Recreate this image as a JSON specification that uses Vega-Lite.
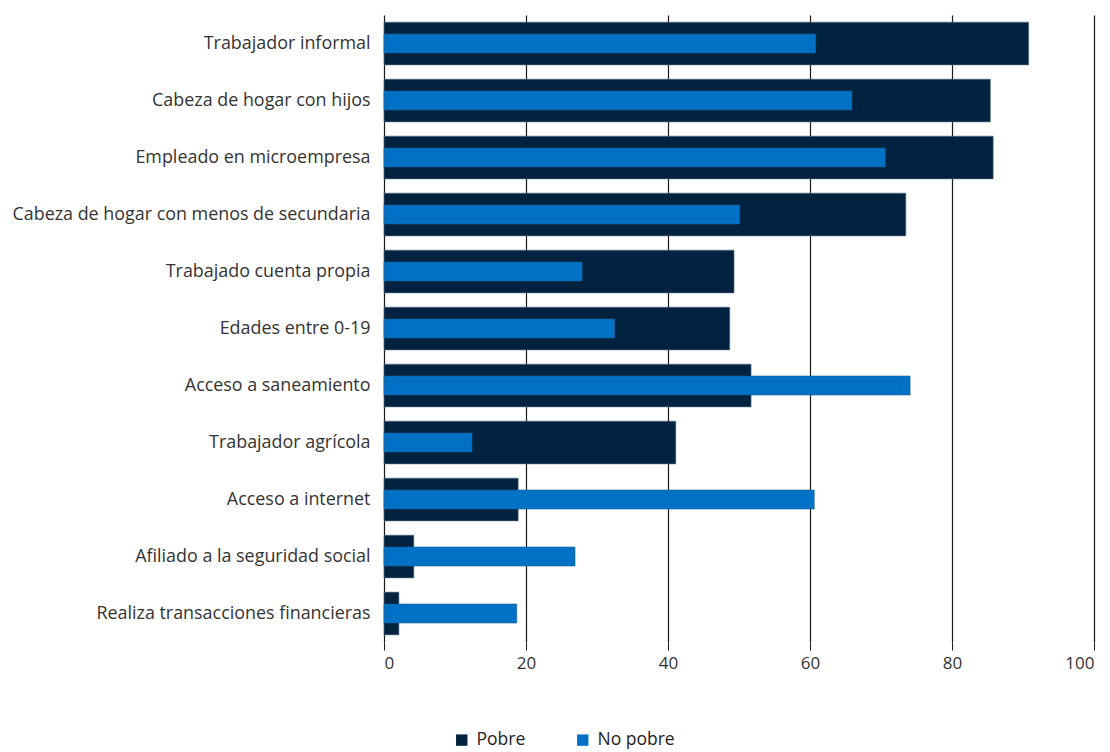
{
  "$schema": "https://vega.github.io/schema/vega-lite/v6.json",
  "autosize": {"type": "none"},
  "width": 710,
  "height": 627,
  "padding": {"left": 384, "top": 15, "right": 16, "bottom": 110},
  "config": {
    "font": "Open Sans",
    "view": {"stroke": null},
    "axis": {"labelFont": "Open Sans", "labelColor": "#333333", "labelFontSize": 17.9}
  },
  "data": {
    "values": [
      {"cat": "Trabajador informal", "pobre": 90.8, "nopobre": 60.8},
      {"cat": "Cabeza de hogar con hijos", "pobre": 85.4, "nopobre": 65.9},
      {"cat": "Empleado en microempresa", "pobre": 85.8, "nopobre": 70.6},
      {"cat": "Cabeza de hogar con menos de secundaria", "pobre": 73.5, "nopobre": 50.1},
      {"cat": "Trabajado cuenta propia", "pobre": 49.3, "nopobre": 27.9},
      {"cat": "Edades entre 0-19", "pobre": 48.7, "nopobre": 32.5},
      {"cat": "Acceso a saneamiento", "pobre": 51.7, "nopobre": 74.1},
      {"cat": "Trabajador agrícola", "pobre": 41.1, "nopobre": 12.4},
      {"cat": "Acceso a internet", "pobre": 18.9, "nopobre": 60.6},
      {"cat": "Afiliado a la seguridad social", "pobre": 4.2, "nopobre": 26.9},
      {"cat": "Realiza transacciones financieras", "pobre": 2.1, "nopobre": 18.7}
    ]
  },
  "encoding": {
    "y": {
      "field": "cat", "type": "nominal", "sort": null,
      "scale": {"paddingInner": 0.25, "paddingOuter": 0.125},
      "axis": {"title": null, "ticks": false, "domain": false, "labelPadding": 14, "labelLimit": 400}
    }
  },
  "layer": [
    {
      "mark": {"type": "bar", "stroke": "#5a7088", "strokeWidth": 0.6},
      "encoding": {
        "x": {
          "field": "pobre", "type": "quantitative",
          "scale": {"domain": [0, 100]},
          "axis": {"title": null, "values": [0, 20, 40, 60, 80, 100], "grid": true, "gridColor": "#1a1a1a", "gridWidth": 1.2, "gridOpacity": 1, "domain": false, "tickColor": "#1a1a1a", "tickSize": 8, "labelPadding": 5, "labelFontSize": 17}
        },
        "color": {
          "datum": "Pobre", "type": "nominal",
          "scale": {"domain": ["Pobre", "No pobre"], "range": ["#012340", "#0071c5"]},
          "legend": {"title": null, "orient": "none", "legendX": 69, "legendY": 716, "direction": "horizontal", "symbolType": "square", "symbolSize": 130, "symbolStrokeWidth": 0, "labelFontSize": 17.5, "labelFont": "Open Sans", "labelColor": "#222222", "columnPadding": 48, "labelOffset": 6}
        }
      }
    },
    {
      "mark": {"type": "bar", "size": 19, "stroke": "#1f5f96", "strokeWidth": 0.6},
      "encoding": {
        "x": {"field": "nopobre", "type": "quantitative"},
        "color": {"datum": "No pobre", "type": "nominal"}
      }
    },
    {
      "mark": {"type": "rule", "color": "#1a1a1a", "strokeWidth": 1.5},
      "encoding": {"x": {"datum": 0}}
    }
  ]
}
